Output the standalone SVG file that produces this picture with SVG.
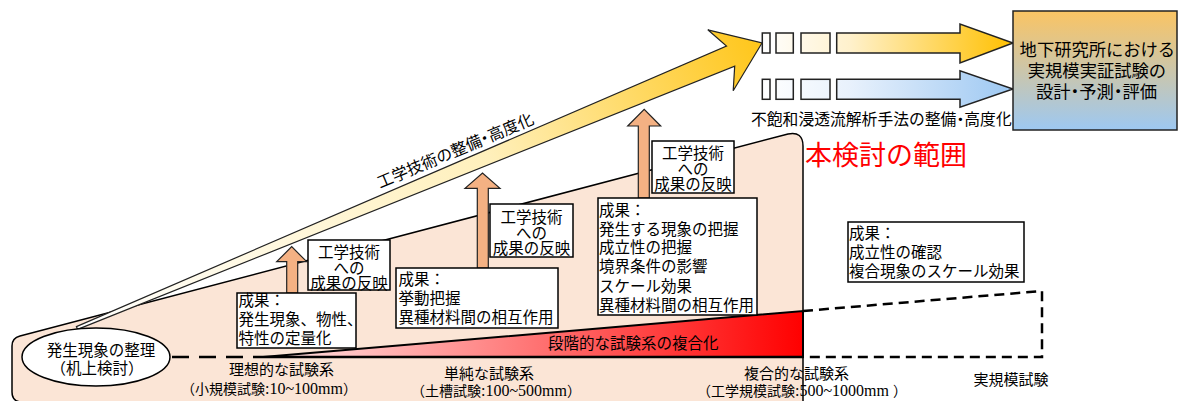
<svg xmlns="http://www.w3.org/2000/svg" width="1178" height="401" viewBox="0 0 1178 401">
<defs>
<linearGradient id="gYel" gradientUnits="userSpaceOnUse" x1="77" y1="328" x2="762" y2="43">
<stop offset="0" stop-color="#FFFFFF"/><stop offset="0.6" stop-color="#FFF0BC"/><stop offset="1" stop-color="#FFC61A"/>
</linearGradient>
<linearGradient id="gYel2" gradientUnits="userSpaceOnUse" x1="762" y1="0" x2="1013" y2="0">
<stop offset="0" stop-color="#FFFFFF"/><stop offset="0.35" stop-color="#FFF1CC"/><stop offset="1" stop-color="#FFC000"/>
</linearGradient>
<linearGradient id="gBlu" gradientUnits="userSpaceOnUse" x1="762" y1="0" x2="1013" y2="0">
<stop offset="0" stop-color="#FFFFFF"/><stop offset="0.35" stop-color="#E8F1FC"/><stop offset="1" stop-color="#9DC8F2"/>
</linearGradient>
<linearGradient id="gBox" x1="0" y1="0" x2="0" y2="1">
<stop offset="0" stop-color="#FAC463"/><stop offset="1" stop-color="#9DC8F2"/>
</linearGradient>
<linearGradient id="gRed" gradientUnits="userSpaceOnUse" x1="263" y1="0" x2="803" y2="0">
<stop offset="0" stop-color="#FFE8E8"/><stop offset="1" stop-color="#FF0000"/>
</linearGradient>
<style>
.jp{font-family:"Noto Sans CJK JP","Noto Sans",sans-serif;fill:#000}
.sr{font-family:"Liberation Serif",serif}
.f15{font-size:15.5px}
.f14{font-size:14px}
.box{fill:#fff;stroke:#000;stroke-width:1.5}
.up{fill:#F4B183;stroke:#222;stroke-width:1.2}
.dash{fill:none;stroke:#000;stroke-width:2.5}
.mid{text-anchor:middle}
</style>
</defs>

<g id="scope-area">
<path d="M12,346 Q12,338 20,336 L788,134 Q803,131 803,146 L803,402 L22,402 Q12,402 12,392 Z" fill="#FBE5D6" stroke="#000" stroke-width="1.5"/>
</g>

<g id="stepwise-complexity">
<polygon points="263,357 803,311 803,357" fill="url(#gRed)" stroke="#000" stroke-width="2"/>
<line x1="263" y1="357" x2="803" y2="357" stroke="#000" stroke-width="2.5"/>
<text class="jp f15" x="548" y="349" fill="#1a0000">段階的な試験系の複合化</text>
</g>

<g id="connectors">
<line class="dash" x1="172" y1="357" x2="263" y2="357" stroke-dasharray="17 10"/>
<path class="dash" d="M803,311 L1042,291 L1042,357 L803,357" stroke-dasharray="10 6"/>
<polygon points="76.4,326.6 726.5,46.1 707.8,29.8 762,43 733.2,90.8 734.7,66.1 77.6,329.4" fill="url(#gYel)" stroke="#222" stroke-width="1.2"/>
<polygon class="up" points="286.7,293 286.7,261.7 276.7,261.7 291.7,246.7 306.7,261.7 297.7,261.7 297.7,293"/>
<polygon class="up" points="477.3,268 477.3,188.3 465,188.3 482.5,173 500,188.3 488.3,188.3 488.3,268"/>
<polygon class="up" points="638.3,198 638.3,126 627.7,126 644.2,109.3 660.7,126 649.3,126 649.3,198"/>
</g>

<g id="eng-tech-label">
<text class="jp" font-size="16" transform="translate(380,188.5) rotate(-22.8)">工学技術の整備<tspan dx="-4">・</tspan><tspan dx="-4">高度化</tspan></text>
</g>

<g id="top-arrows">
<g fill="url(#gYel2)" stroke="#222" stroke-width="1.5">
<rect x="762.3" y="33" width="7.7" height="20"/>
<rect x="776" y="33" width="17.3" height="20"/>
<rect x="801" y="33" width="29" height="20"/>
<polygon points="836.7,33 960,33 960,24 1013,43 960,63 960,53 836.7,53"/>
</g>
<g fill="url(#gBlu)" stroke="#222" stroke-width="1.5">
<rect x="762.3" y="79.3" width="7.7" height="20"/>
<rect x="776" y="79.3" width="17.3" height="20"/>
<rect x="801" y="79.3" width="29" height="20"/>
<polygon points="836.7,79.3 960,79.3 960,70.7 1013,89 960,107.3 960,99.3 836.7,99.3"/>
</g>
<text class="jp" font-size="15.8" x="751" y="125">不飽和浸透流解析手法の整備<tspan dx="-3.95">・</tspan><tspan dx="-3.95">高度化</tspan></text>
</g>

<g id="target-box">
<rect x="1013" y="11" width="164" height="119" fill="url(#gBox)" stroke="#222" stroke-width="1.5"/>
<text class="jp" font-size="17.3"><tspan x="1019.6" y="55.5">地下研究所における</tspan><tspan x="1027.8" y="77">実規模実証試験の</tspan><tspan x="1036" y="97.5">設計</tspan><tspan dx="-4.3">・</tspan><tspan dx="-4.3">予測</tspan><tspan dx="-4.3">・</tspan><tspan dx="-4.3">評価</tspan></text>
</g>

<g id="scope-title">
<text class="jp" font-size="27" x="805" y="165" style="fill:#FF0000">本検討の範囲</text>
</g>

<g id="desk-study">
<ellipse cx="96" cy="357" rx="74" ry="29" fill="#fff" stroke="#000" stroke-width="1.5"/>
<text class="jp f15 mid"><tspan x="101" y="356">発生現象の整理</tspan><tspan x="97" y="374">（机上検討）</tspan></text>
</g>

<g id="reflect-1">
<rect class="box" x="308" y="240" width="82" height="50"/>
<text class="jp f15 mid"><tspan x="349" y="258">工学技術</tspan><tspan x="349" y="273.5">への</tspan><tspan x="349" y="289">成果の反映</tspan></text>
</g>
<g id="reflect-2">
<rect class="box" x="490" y="204" width="83" height="53"/>
<text class="jp f15 mid"><tspan x="531.5" y="223">工学技術</tspan><tspan x="531.5" y="238.5">への</tspan><tspan x="531.5" y="254">成果の反映</tspan></text>
</g>
<g id="reflect-3">
<rect class="box" x="652" y="141" width="82" height="52"/>
<text class="jp f15 mid"><tspan x="693" y="159">工学技術</tspan><tspan x="693" y="174.5">への</tspan><tspan x="693" y="190">成果の反映</tspan></text>
</g>

<g id="result-1">
<rect class="box" x="237" y="293" width="119" height="55"/>
<text class="jp f15"><tspan x="238.5" y="306">成果：</tspan><tspan x="238.5" y="325">発生現象、物性、</tspan><tspan x="238.5" y="343.5">特性の定量化</tspan></text>
</g>
<g id="result-2">
<rect class="box" x="396" y="268" width="162" height="60"/>
<text class="jp f15"><tspan x="398.5" y="285">成果：</tspan><tspan x="398.5" y="304">挙動把握</tspan><tspan x="398.5" y="322.5">異種材料間の相互作用</tspan></text>
</g>
<g id="result-3">
<rect class="box" x="598" y="198" width="159" height="117"/>
<text class="jp f15"><tspan x="599" y="215.5">成果：</tspan><tspan x="599" y="234.5">発生する現象の把握</tspan><tspan x="599" y="253">成立性の把握</tspan><tspan x="599" y="272">境界条件の影響</tspan><tspan x="599" y="291.5">スケール効果</tspan><tspan x="599" y="310.5">異種材料間の相互作用</tspan></text>
</g>
<g id="result-4">
<rect class="box" x="848" y="222" width="176" height="60"/>
<text class="jp f15"><tspan x="849" y="239">成果：</tspan><tspan x="849" y="258">成立性の確認</tspan><tspan x="849" y="276.5">複合現象のスケール効果</tspan></text>
</g>

<g id="scale-labels">
<text class="jp" font-size="15"><tspan x="229" y="374.5">理想的な試験系</tspan><tspan x="181" y="394" font-size="14">（小規模試験</tspan><tspan class="sr" font-size="16">:10~100mm</tspan><tspan font-size="14">）</tspan></text>
<text class="jp" font-size="15"><tspan x="444" y="378.5">単純な試験系</tspan><tspan x="411" y="396" font-size="14">（土槽試験</tspan><tspan class="sr" font-size="16">:100~500mm</tspan><tspan font-size="14">）</tspan></text>
<text class="jp" font-size="15"><tspan x="744" y="379">複合的な試験系</tspan><tspan x="697" y="396" font-size="14">（工学規模試験</tspan><tspan class="sr" font-size="16">:500~1000mm </tspan><tspan font-size="14">）</tspan></text>
<text class="jp mid" font-size="15" x="1011" y="385">実規模試験</text>
</g>
</svg>
